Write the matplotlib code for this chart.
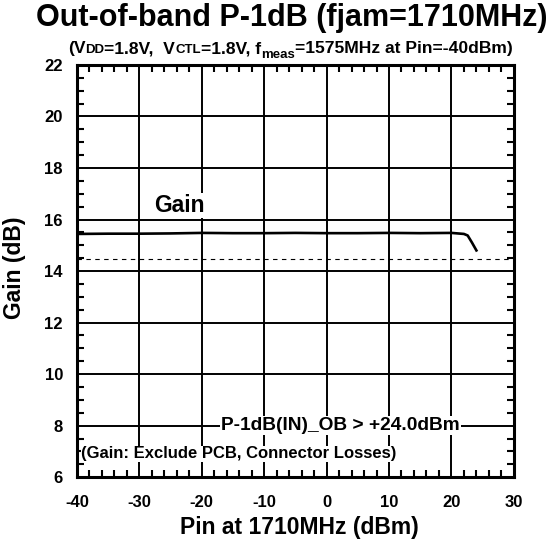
import matplotlib
matplotlib.use("Agg")
import matplotlib.pyplot as plt
from matplotlib.ticker import MultipleLocator
from matplotlib.transforms import offset_copy

plt.rcParams['font.family'] = ['Liberation Sans', 'DejaVu Sans']
plt.rcParams['font.weight'] = 'bold'
plt.rcParams['axes.unicode_minus'] = False

# data
pin = [-40, -35, -30, -25, -20, -15, -10, -5, 0, 5, 10, 15, 20, 21, 22, 22.6, 23.3, 24]
gain = [15.44, 15.45, 15.45, 15.46, 15.48, 15.47, 15.47, 15.48, 15.47, 15.47, 15.48, 15.47, 15.48, 15.46, 15.44, 15.38, 15.1, 14.8]
gain_limit = 14.47

x_ticks = [-40, -30, -20, -10, 0, 10, 20, 30]
y_ticks = [6, 8, 10, 12, 14, 16, 18, 20, 22]

fig = plt.figure(figsize=(5.49, 5.41), dpi=100)
ax = fig.add_axes([0.140, 0.118, 0.796, 0.762])

ax.plot(pin, gain, color='black', lw=1.9, zorder=3)
ax.axhline(gain_limit, color='black', lw=0.8, ls=(0, (4, 4)), zorder=2)

ax.set_xlim(-40, 30)
ax.set_ylim(6, 22)
ax.set_xticks(x_ticks)
ax.set_yticks(y_ticks)
ax.xaxis.set_minor_locator(MultipleLocator(2))
ax.yaxis.set_minor_locator(MultipleLocator(0.5))
ax.grid(True, which='major', color='black', lw=1.4)
ax.tick_params(which='both', direction='in', top=True, right=True, labelsize=12)
ax.tick_params(axis='x', which='major', length=0, pad=13)
ax.tick_params(axis='y', which='major', length=0, pad=10)
ax.tick_params(which='minor', length=5, width=1.5)
for lbl in ax.get_xticklabels() + ax.get_yticklabels():
    lbl.set_fontweight('bold')
for sp in ax.spines.values():
    sp.set_linewidth(2.2)

ax.set_xlabel("Pin at 1710MHz (dBm)", fontsize=16.5, fontweight='bold', va='center')
ax.set_ylabel("Gain (dB)", fontsize=16.5, fontweight='bold', va='center')
ax.xaxis.set_label_coords(0.51, -0.121)
ax.yaxis.set_label_coords(-0.142, 0.507)

box = dict(facecolor='white', edgecolor='none', pad=0.5)
ax.text(-27.6, 16.55, "Gain", fontsize=16.5, fontweight='bold', va='center', ha='left', bbox=box, zorder=4)
ax.text(-16.9, 8.0, "P-1dB(IN)_OB > +24.0dBm", fontsize=13.8, fontweight='bold', va='center', ha='left', bbox=box, zorder=4)
ax.text(-39.3, 6.9, "(Gain: Exclude PCB, Connector Losses)", fontsize=12, fontweight='bold', va='center', ha='left', bbox=box, zorder=4)

fig.text(0.532, 0.967, "Out-of-band P-1dB (fjam=1710MHz)", fontsize=22, fontweight='bold', ha='center', va='center')

# subtitle with small caps / subscript pieces
pieces = [("(V", 12.6, 0), ("DD", 9.5, 0), ("=1.8V,  V", 12.6, 0), ("CTL", 9.5, 0),
          ("=1.8V, f", 12.6, 0), ("meas", 9.5, -5), ("=1575MHz at Pin=-40dBm)", 12.6, 0)]
fig.canvas.draw()
renderer = fig.canvas.get_renderer()
x0 = 68
y0 = 541 - 53
xpos = x0
for s, size, dy in pieces:
    t = fig.text(0, 0, s, fontsize=size, fontweight='bold', ha='left', va='baseline',
                 transform=offset_copy(fig.transFigure, fig=fig, x=xpos, y=y0 + dy, units='dots'))
    w = t.get_window_extent(renderer).width
    xpos += w

fig.savefig("out.png", dpi=100)
